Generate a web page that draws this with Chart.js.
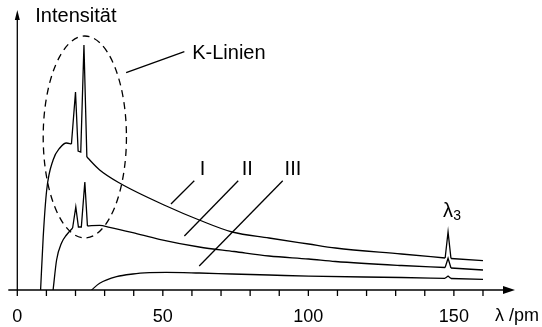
<!DOCTYPE html>
<html>
<head>
<meta charset="utf-8">
<script src="https://cdn.jsdelivr.net/npm/chart.js@4.4.0/dist/chart.umd.min.js"></script>
<style>
html, body { margin: 0; padding: 0; background: #fff; }
#wrap { width: 542px; height: 327px; position: relative; }
</style>
</head>
<body>
<div id="wrap"><canvas id="spectrum"></canvas></div>
<script>
// Wellenlaenge (pm) und Intensitaet (willk. Einheiten)
const lambdaI = [8.0, 8.9, 10.1, 12.3, 14.6, 16.9, 18.6, 20.0, 20.9, 21.8, 22.9, 23.9, 28.3, 35.1, 51.2, 62.5, 73.8, 86.5, 100.1, 109.3, 132.0, 147.0, 148.0, 149.0, 160.0];
const intensI = [0, 53, 100, 130, 142, 147, 146, 198, 139, 138, 245, 133, 120, 107, 84, 70, 58, 52, 46, 42, 36, 32, 58, 31.5, 29.3];

const lambdaII = [12.3, 13.5, 15.2, 16.9, 19.0, 20.1, 21.0, 22.0, 23.2, 24.1, 28.3, 31.7, 39.7, 48.8, 62.5, 74.5, 86.5, 100.1, 109.3, 132.0, 147.0, 148.0, 149.0, 160.0];
const intensII = [0, 30, 47, 55, 62, 83, 63, 63, 108, 64, 64.7, 62.7, 57.3, 50.7, 43, 38.5, 34, 31, 28.5, 24.5, 22.5, 31.7, 22, 20];

const lambdaIII = [25.5, 28.3, 34.1, 39.7, 45.4, 51.2, 62.5, 73.8, 86.5, 100.1, 132.0, 147.0, 148.0, 149.0, 160.0];
const intensIII = [0, 6.7, 13.3, 16, 17.3, 17.7, 17, 16, 15, 13.8, 12.5, 11.7, 14, 11.5, 10.7];

// Bereiche der Linien (K-Linien, lambda 3), die spitz gezeichnet werden
const sharpI = [[18.6, 23.9], [147.0, 149.0]];
const sharpII = [[19.0, 24.1], [147.0, 149.0]];
const sharpIII = [[147.0, 149.0]];

const tickValues = [0, 10, 20, 30, 40, 50, 60, 70, 80, 90, 100, 110, 120, 130, 140, 150, 160];
const tickLabels = ['0', '', '', '', '', '50', '', '', '', '', '100', '', '', '', '', '150', ''];

const FONT = "'Liberation Sans', Arial, sans-serif";

function toPoints(xs, ys) {
    return xs.map((x, i) => ({ x: x, y: ys[i] }));
}

// Kurve in glatte Stuecke und spitze Linienstuecke zerlegen
function buildPieces(xs, ys, sharp, name) {
    const out = [];
    let start = 0;
    const add = (from, to, isSharp) => {
        out.push({
            label: name,
            data: toPoints(xs.slice(from, to + 1), ys.slice(from, to + 1)),
            borderColor: '#000',
            borderWidth: 1.3,
            pointRadius: 0,
            fill: false,
            tension: 0,
            cubicInterpolationMode: isSharp ? 'default' : 'monotone'
        });
    };
    sharp.forEach(range => {
        const i = xs.indexOf(range[0]);
        const j = xs.indexOf(range[1]);
        add(start, i, false);
        add(i, j, true);
        start = j;
    });
    add(start, xs.length - 1, false);
    return out;
}

// Achsen, Ellipse und Beschriftungen
const decorations = {
    id: 'decorations',
    afterDatasetsDraw(chart) {
        const ctx = chart.ctx;
        const xs = chart.scales.x;
        const ys = chart.scales.y;
        const X = v => xs.getPixelForValue(v);
        const Y = v => ys.getPixelForValue(v);
        const x0 = X(0), y0 = Y(0);
        const area = chart.chartArea;

        ctx.save();
        ctx.strokeStyle = '#000';
        ctx.fillStyle = '#000';
        ctx.lineWidth = 1.3;

        // x-Achse mit Pfeil
        ctx.beginPath();
        ctx.moveTo(x0 - 9, y0);
        ctx.lineTo(area.right - 10, y0);
        ctx.stroke();
        ctx.beginPath();
        ctx.moveTo(area.right, y0);
        ctx.lineTo(area.right - 12, y0 - 4);
        ctx.lineTo(area.right - 12, y0 + 4);
        ctx.closePath();
        ctx.fill();

        // y-Achse mit Pfeil
        ctx.beginPath();
        ctx.moveTo(x0, y0);
        ctx.lineTo(x0, area.top + 8);
        ctx.stroke();
        ctx.beginPath();
        ctx.moveTo(x0, area.top);
        ctx.lineTo(x0 - 2.5, area.top + 10);
        ctx.lineTo(x0 + 2.5, area.top + 10);
        ctx.closePath();
        ctx.fill();

        // Teilstriche und Zahlen
        ctx.font = '18px ' + FONT;
        ctx.textAlign = 'center';
        ctx.textBaseline = 'middle';
        tickValues.forEach((t, i) => {
            const px = X(t);
            ctx.beginPath();
            ctx.moveTo(px, y0);
            ctx.lineTo(px, y0 + 6);
            ctx.stroke();
            if (tickLabels[i]) ctx.fillText(tickLabels[i], px, y0 + 27);
        });
        ctx.textAlign = 'left';
        ctx.fillText('\u03bb /pm', X(164.1), y0 + 26);

        ctx.font = '20px ' + FONT;
        ctx.fillText('Intensit\u00e4t', x0 + 18, area.top + 6);

        // gestrichelte Ellipse um die K-Linien
        ctx.setLineDash([7, 5]);
        ctx.beginPath();
        const cx = X(23.2), cy = Y(153);
        const rx = X(23.2 + 14.3) - cx, ry = cy - Y(153 + 101);
        ctx.ellipse(cx, cy, rx, ry, 0, 0, Math.PI * 2);
        ctx.stroke();
        ctx.setLineDash([]);

        // Hinweislinien
        const leader = (a, b, c, d) => {
            ctx.beginPath();
            ctx.moveTo(X(a), Y(b));
            ctx.lineTo(X(c), Y(d));
            ctx.stroke();
        };
        leader(37.4, 217.3, 57.4, 238.3);
        leader(52.8, 86, 60.8, 109.3);
        leader(57.4, 54, 75.9, 109.3);
        leader(62.5, 24, 91.2, 109.3);

        ctx.font = '20px ' + FONT;
        ctx.textAlign = 'left';
        ctx.fillText('K-Linien', X(60.1), Y(237));
        ctx.textAlign = 'center';
        ctx.fillText('I', X(63.6), Y(121));
        ctx.fillText('II', X(79.0), Y(121));
        ctx.fillText('III', X(94.7), Y(121));

        // Lambda 3
        ctx.fillText('\u03bb', X(148), Y(78.3));
        ctx.font = '14px ' + FONT;
        ctx.fillText('3', X(148) + 9, Y(78.3) + 4);

        ctx.restore();
    }
};

new Chart(document.getElementById('spectrum'), {
    type: 'line',
    data: {
        datasets: [].concat(
            buildPieces(lambdaI, intensI, sharpI, 'I'),
            buildPieces(lambdaII, intensII, sharpII, 'II'),
            buildPieces(lambdaIII, intensIII, sharpIII, 'III')
        )
    },
    options: {
        responsive: true,
        maintainAspectRatio: false,
        animation: false,
        layout: {
            padding: { left: 17.3, right: 27, top: 10, bottom: 37 }
        },
        plugins: {
            legend: { display: false },
            tooltip: { enabled: false }
        },
        scales: {
            x: { type: 'linear', min: 0, max: 171, display: false },
            y: { type: 'linear', min: 0, max: 280, display: false }
        }
    },
    plugins: [decorations]
});
</script>
</body>
</html>
